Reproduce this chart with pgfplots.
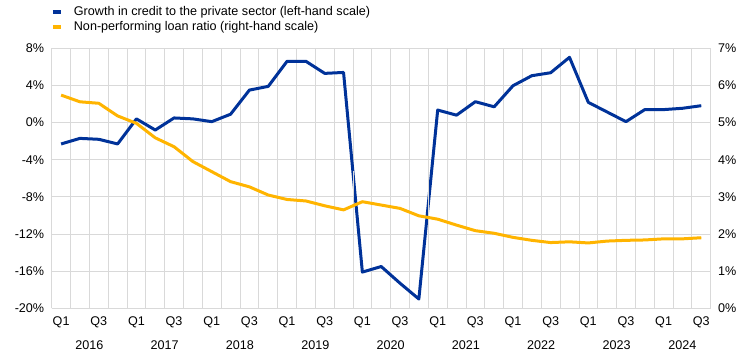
\documentclass[border=0pt]{standalone}
\usepackage{fontspec}
\setmainfont{Liberation Sans}
\usepackage{pgfplots}
\usepackage{pgfplotstable}
\pgfplotsset{compat=1.18}
\definecolor{ecbblue}{HTML}{003299}
\definecolor{ecbyellow}{HTML}{FFB400}
\definecolor{gridgray}{HTML}{D9D9D9}

\pgfplotstableread{
x credit
0.5 -2.3
1.5 -1.7
2.5 -1.8
3.5 -2.3
4.5 0.4
5.5 -0.8
6.5 0.5
7.5 0.4
8.5 0.1
9.5 0.9
10.5 3.5
11.5 3.9
12.5 6.6
13.5 6.6
14.5 5.3
15.5 5.4
16.5 -16.1
17.5 -15.5
18.5 -17.3
19.5 -19.0
20.5 1.35
21.5 0.8
22.5 2.25
23.5 1.7
24.5 3.97
25.5 5.05
26.5 5.37
27.5 7.03
28.5 2.18
29.5 1.14
30.5 0.1
31.5 1.4
32.5 1.4
33.5 1.54
34.5 1.82
}\credit

\pgfplotstableread{
x npl
0.5 5.74
1.5 5.56
2.5 5.52
3.5 5.18
4.5 4.98
5.5 4.59
6.5 4.35
7.5 3.95
8.5 3.68
9.5 3.41
10.5 3.27
11.5 3.05
12.5 2.93
13.5 2.89
14.5 2.76
15.5 2.65
16.5 2.87
17.5 2.78
18.5 2.69
19.5 2.49
20.5 2.40
21.5 2.24
22.5 2.09
23.5 2.02
24.5 1.91
25.5 1.83
26.5 1.77
27.5 1.79
28.5 1.76
29.5 1.81
30.5 1.83
31.5 1.84
32.5 1.87
33.5 1.87
34.5 1.90
}\npl

\begin{document}
\begin{tikzpicture}[font=\fontsize{12.6}{14.5}\selectfont]
\pgfplotsset{
  base/.style={
    scale only axis, width=659pt, height=260pt,
    xmin=0, xmax=35,
    axis line style={draw=none},
    major tick length=0pt, minor tick length=0pt,
    tick label style={font=\fontsize{12.6}{14.5}\selectfont},
    /pgf/number format/assume math mode=true,
  }
}
\begin{axis}[base,
  ymin=-20, ymax=8,
  ytick={-20,-16,...,8},
  yticklabel={\pgfmathprintnumber{\tick}\%},
  ymajorgrids, grid style={gridgray, line width=0.8pt},
  minor xtick={0,1,...,35},
  xminorgrids, minor grid style={gridgray, line width=0.8pt},
  xtick={0.5,2.5,4.5,6.5,8.5,10.5,12.5,14.5,16.5,18.5,20.5,22.5,24.5,26.5,28.5,30.5,32.5,34.5},
  xticklabels={Q1,Q3,Q1,Q3,Q1,Q3,Q1,Q3,Q1,Q3,Q1,Q3,Q1,Q3,Q1,Q3,Q1,Q3},
  xticklabel style={yshift=-5pt},
  yticklabel style={xshift=-4pt},
  clip=false,
  legend style={draw=none, fill=none, at={(0,1)}, anchor=south west,
    xshift=-1pt, yshift=14pt, inner sep=0pt,
    font=\fontsize{12.6}{14.5}\selectfont, row sep=0.5pt,
    /tikz/every odd column/.style={column sep=9pt}},
  legend cell align=left,
  legend image code/.code={\draw[line width=4pt] (0pt,0pt) -- (8pt,0pt);},
]
\addplot[ecbblue, line width=3pt, line join=round] table[x=x, y=credit] {\credit};
\addlegendentry{Growth in credit to the private sector (left-hand scale)}
\addlegendimage{ecbyellow, line width=3pt}
\addlegendentry{Non-performing loan ratio (right-hand scale)}
\pgfplotsinvokeforeach{0,4,8,12,16,20,24,28,32,35}{
  \draw[gridgray, line width=0.8pt] (axis cs:#1,-20) -- ++(0,-48.7pt);
}
\node at ([yshift=-37pt]axis cs:2,-20) {2016};
\node at ([yshift=-37pt]axis cs:6,-20) {2017};
\node at ([yshift=-37pt]axis cs:10,-20) {2018};
\node at ([yshift=-37pt]axis cs:14,-20) {2019};
\node at ([yshift=-37pt]axis cs:18,-20) {2020};
\node at ([yshift=-37pt]axis cs:22,-20) {2021};
\node at ([yshift=-37pt]axis cs:26,-20) {2022};
\node at ([yshift=-37pt]axis cs:30,-20) {2023};
\node at ([yshift=-37pt]axis cs:33.5,-20) {2024};
\end{axis}
\begin{axis}[base,
  ymin=0, ymax=7,
  ytick={0,1,...,7},
  yticklabel={\pgfmathprintnumber{\tick}\%},
  yticklabel style={xshift=4pt},
  axis y line*=right, hide x axis,
]
\addplot[ecbyellow, line width=3pt, line join=round] table[x=x, y=npl] {\npl};
\end{axis}
\pgfresetboundingbox
\path (-51.7pt,-48.7pt) rectangle (692.3pt,308.3pt);
\end{tikzpicture}
\end{document}
